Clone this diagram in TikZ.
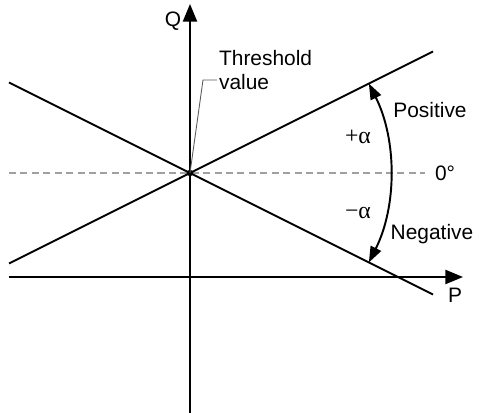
\documentclass[tikz,border=0pt]{standalone}
\usepackage{fontspec}
\setmainfont{Liberation Sans}
\newfontfamily\grkfont{Liberation Serif}
\usepackage{amsmath}
\usepackage{tikz}
\usetikzlibrary{arrows.meta, positioning, calc}
\definecolor{mydark}{RGB}{0,0,0}
\definecolor{mygray}{RGB}{160,160,160}
\definecolor{leadgray}{RGB}{90,90,90}
\tikzset{
  axisarrow/.style={-{Triangle[length=10pt, width=8pt]}, line width=1.1pt, color=mydark},
  limitline/.style={line width=1.1pt, color=mydark},
  zeroline/.style={line width=0.7pt, color=mygray, dash pattern=on 4pt off 2.5pt},
  leader/.style={line width=0.5pt, color=leadgray},
  swing/.style={{Triangle[length=9pt, width=6.5pt]}-{Triangle[length=9pt, width=6.5pt]}, line width=1.1pt, color=mydark},
  lbl/.style={font=\fontsize{11.9}{14}\selectfont, inner sep=1pt},
  anglbl/.style={font=\grkfont\fontsize{13.5}{15}\selectfont, inner sep=1pt}
}

\begin{document}
\begin{tikzpicture}
  \useasboundingbox (-3.8,-4.8) rectangle (5.78,3.46);

  % Zero reference and axes
  \coordinate (O) at (0,0);
  \draw[zeroline] (-3.62,0) -- (4.7,0) coordinate (zeroend);
  \draw[axisarrow] (0,-4.8) -- (0,3.38) coordinate (qtip);
  \draw[axisarrow] (-3.62,-2.08) -- (5.46,-2.08) coordinate (ptip);
  \node[lbl] (qlabel) at (-0.34,3.04) {Q};
  \node[lbl] (plabel) at (5.3,-2.44) {P};

  % Limit lines through the threshold point
  \draw[limitline] (-3.62,-1.81) -- (4.86,2.43);
  \draw[limitline] (-3.62,1.81) -- (4.86,-2.43);
  \fill[mydark] (O) circle (0.065);

  % Angle range
  \draw[swing] (-26.565:4) arc (-26.565:26.565:4);
  \node[anglbl] (plusa) at (3.36,0.72) {+α};
  \node[anglbl] (minusa) at (3.36,-0.8) {−α};
  \node[lbl] (poslabel) at (4.8,1.26) {Positive};
  \node[lbl] (neglabel) at (4.84,-1.22) {Negative};
  \node[lbl, right] (zerolabel) at (4.86,0) {0°};

  % Threshold label with leader
  \node[lbl, align=left, anchor=west] (thresh) at (0.54,2.06) {Threshold\\value};
  \draw[leader] (O) -- (0.26,1.86) -- (thresh.west |- 0,1.86);
\end{tikzpicture}
\end{document}
